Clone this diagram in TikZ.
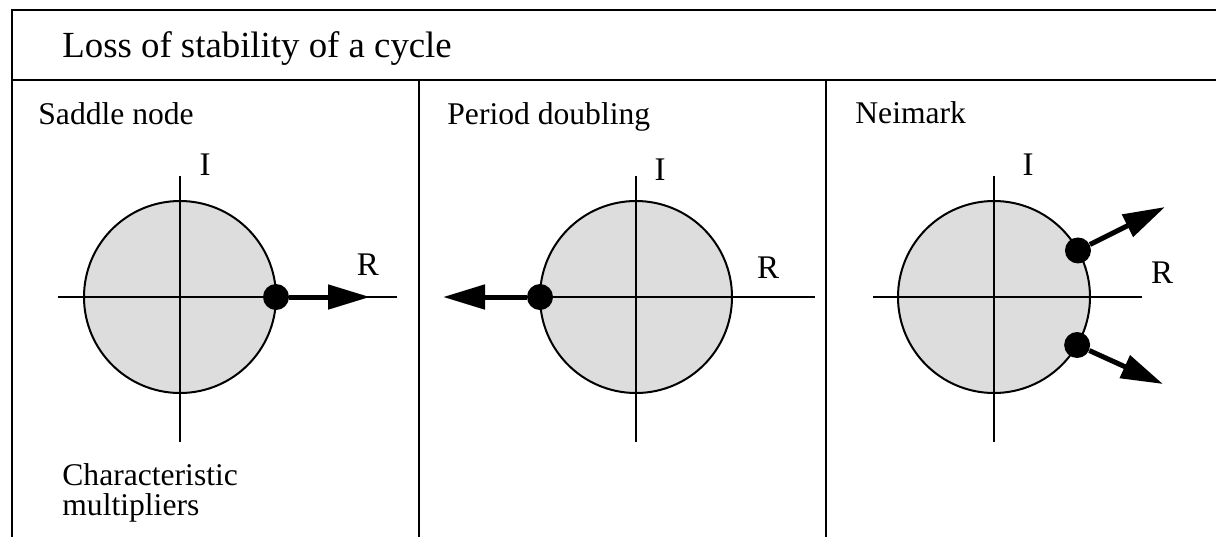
\documentclass[tikz,border=0pt]{standalone}
\usepackage{fontspec}
\setmainfont{Liberation Serif}
\usetikzlibrary{arrows.meta,positioning}
\definecolor{discgray}{RGB}{221,221,221}

\begin{document}
\begin{tikzpicture}[
    x=0.5pt, y=-0.5pt,
    frame/.style={line width=1.2pt},
    axis/.style={line width=1pt},
    disc/.style={circle, draw, line width=1pt, fill=discgray, minimum size=96pt, inner sep=0pt, outer sep=0pt},
    dot/.style={circle, fill=black, minimum size=13pt, inner sep=0pt},
    push/.style={-{Triangle[length=21pt,width=12pt]}, line width=2.5pt},
    panel/.style={anchor=base west, inner sep=0pt, font=\fontsize{15.8}{15}\selectfont},
    axlabel/.style={font=\fontsize{16.5}{16.5}\selectfont}
]
    \useasboundingbox (0,0) rectangle (1216,537);

    % Frame
    \draw[frame] (1216,10) -- (12,10) -- (12,537);
    \draw[frame] (12,80) -- (1216,80);
    \draw[frame] (419,80) -- (419,537);
    \draw[frame] (826,80) -- (826,537);

    \node[anchor=base west, inner sep=0pt, font=\fontsize{18.4}{20}\selectfont] (title) at (62,57) {Loss of stability of a cycle};

    % Saddle node
    \node[panel] (lab1) at (38,124) {Saddle node};
    \node[disc] (c1) at (180,297) {};
    \draw[axis] (58,297) -- (397,297);
    \draw[axis] (180,176) -- (180,442);
    \node[axlabel] (i1) at (205,165) {I};
    \node[axlabel] (r1) at (368,265) {R};
    \node[dot] (d1) at (c1.east) {};
    \coordinate (t1) at (370,297);
    \draw[push] (d1) -- (t1);
    \node[panel, align=left] (cm) at (62,515) {Characteristic\\multipliers};

    % Period doubling
    \node[panel] (lab2) at (447,124) {Period doubling};
    \node[disc] (c2) at (636,297) {};
    \draw[axis] (515,297) -- (815,297);
    \draw[axis] (636,176) -- (636,442);
    \node[axlabel] (i2) at (660,170) {I};
    \node[axlabel] (r2) at (768,268) {R};
    \node[dot] (d2) at (c2.west) {};
    \coordinate (t2) at (443,297);
    \draw[push] (d2) -- (t2);

    % Neimark
    \node[panel] (lab3) at (855,123) {Neimark};
    \node[disc] (c3) at (994,297) {};
    \draw[axis] (873,297) -- (1142,297);
    \draw[axis] (994,176) -- (994,442);
    \node[axlabel] (i3) at (1028,165) {I};
    \node[axlabel] (r3) at (1162,273) {R};
    \node[dot] (d3) at (c3.29) {};
    \node[dot] (d4) at (c3.-30) {};
    \coordinate (t3) at (1165,207);
    \coordinate (t4) at (1163,384);
    \draw[push] (d3) -- (t3);
    \draw[push] (d4) -- (t4);
\end{tikzpicture}
\end{document}
